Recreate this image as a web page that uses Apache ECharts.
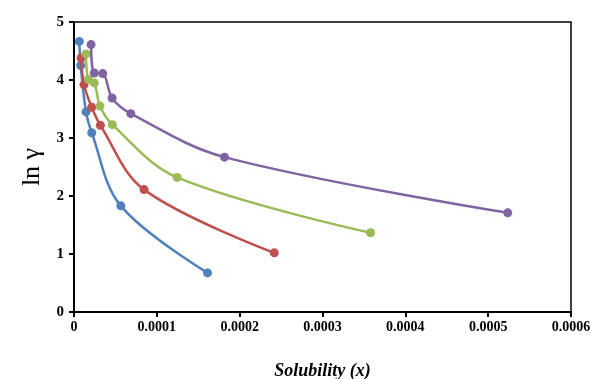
<!DOCTYPE html>
<html>
<head>
<meta charset="utf-8">
<script src="https://cdn.jsdelivr.net/npm/echarts@6/dist/echarts.min.js"></script>
<style>html,body{margin:0;padding:0;background:#fff;}#c{width:593px;height:379px;}</style>
</head>
<body>
<div id="c"></div>
<script>
const blueX = [6.4e-6, 8.1e-6, 1.45e-5, 2.14e-5, 5.65e-5, 1.612e-4];
const blueY = [4.665, 4.25, 3.45, 3.09, 1.83, 0.674];
const redX = [8.5e-6, 1.21e-5, 2.14e-5, 3.18e-5, 8.46e-5, 2.418e-4];
const redY = [4.38, 3.92, 3.53, 3.22, 2.11, 1.02];
const greenX = [1.45e-5, 1.73e-5, 2.45e-5, 3.14e-5, 4.63e-5, 1.245e-4, 3.58e-4];
const greenY = [4.45, 4.01, 3.95, 3.55, 3.23, 2.32, 1.366];
const purpleX = [2.06e-5, 2.45e-5, 3.47e-5, 4.6e-5, 6.86e-5, 1.817e-4, 5.236e-4];
const purpleY = [4.61, 4.12, 4.11, 3.69, 3.42, 2.67, 1.71];
const xTickLabels = ['0', '0.0001', '0.0002', '0.0003', '0.0004', '0.0005', '0.0006'];
const yTickLabels = ['0', '1', '2', '3', '4', '5'];

const zip = (xs, ys) => xs.map((x, i) => [x, ys[i]]);
const colors = ['#4F81BD', '#C0504D', '#9BBB59', '#8064A2'];
const sets = [[blueX, blueY], [redX, redY], [greenX, greenY], [purpleX, purpleY]];
const font = '"Liberation Serif", "Times New Roman", serif';

const chart = echarts.init(document.getElementById('c'), null, {renderer: 'canvas'});
chart.setOption({
  animation: false,
  grid: {left: 74, right: 22, top: 22, bottom: 67, show: true, borderColor: '#000', borderWidth: 1.5, containLabel: false, outerBoundsMode: 'none'},
  xAxis: {
    type: 'value', min: 0, max: 0.0006, interval: 0.0001,
    axisLine: {show: true, lineStyle: {color: '#000', width: 2}},
    axisTick: {show: true, inside: false, length: 5, lineStyle: {color: '#000', width: 2}},
    splitLine: {show: false},
    axisLabel: {
      color: '#000', fontFamily: font, fontWeight: 'bold', fontSize: 14, margin: 8,
      formatter: (v) => xTickLabels[Math.round(v / 0.0001)]
    },
    name: 'Solubility (x)', nameLocation: 'middle', nameGap: 50,
    nameTextStyle: {color: '#000', fontFamily: font, fontWeight: 'bold', fontStyle: 'italic', fontSize: 18}
  },
  yAxis: {
    type: 'value', min: 0, max: 5, interval: 1,
    axisLine: {show: true, lineStyle: {color: '#000', width: 2}},
    axisTick: {show: true, inside: false, length: 5, lineStyle: {color: '#000', width: 2}},
    splitLine: {show: false},
    axisLabel: {
      color: '#000', fontFamily: font, fontWeight: 'bold', fontSize: 15, margin: 10,
      formatter: (v) => yTickLabels[Math.round(v)]
    },
    name: 'ln γ', nameLocation: 'middle', nameGap: 28, nameRotate: 90,
    nameTextStyle: {color: '#000', fontFamily: font, fontSize: 26}
  },
  series: sets.map((s, i) => ({
    type: 'line',
    data: zip(s[0], s[1]),
    smooth: 0.35,
    symbol: 'circle',
    symbolSize: 9,
    lineStyle: {color: colors[i], width: 2.5},
    itemStyle: {color: colors[i]},
    z: 2 + i
  }))
});
</script>
</body>
</html>
